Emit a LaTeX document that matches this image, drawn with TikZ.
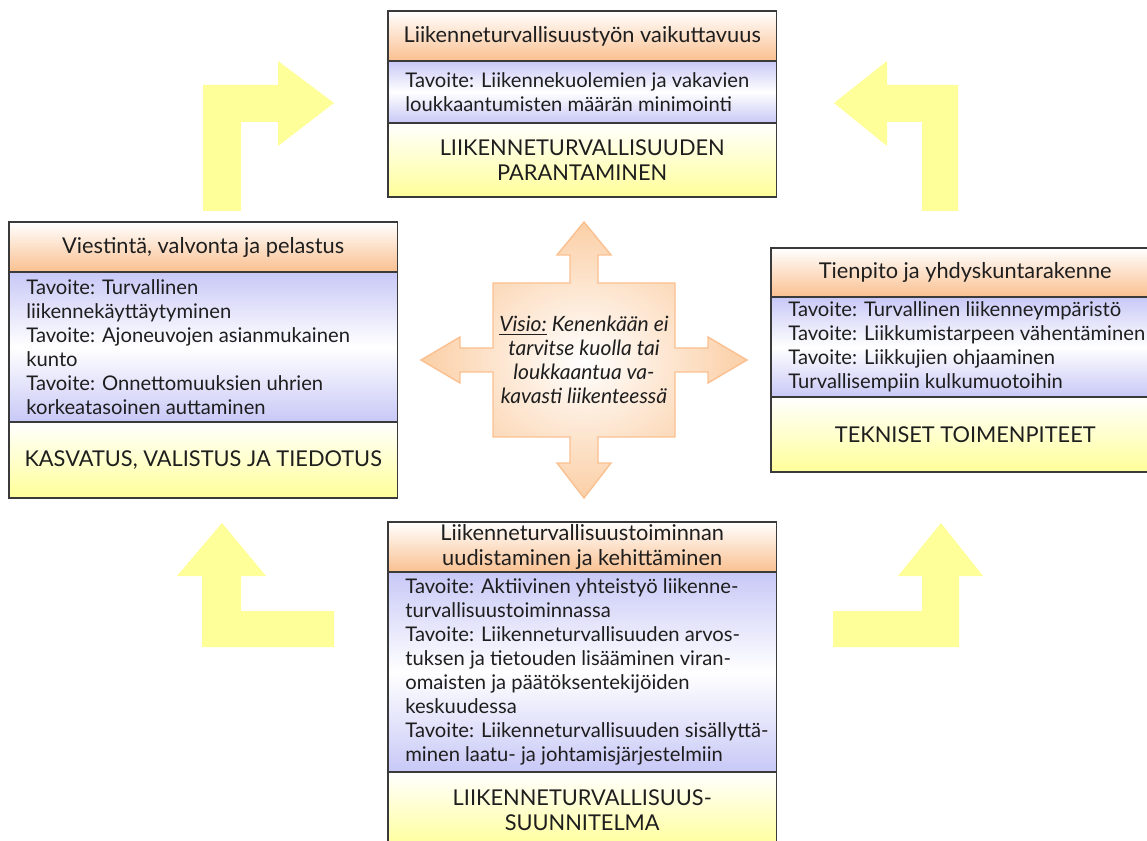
\documentclass[tikz,border=0pt]{standalone}
\usepackage{fontspec}
\setmainfont{Lato}
\usetikzlibrary{positioning}

\definecolor{otsikkovari}{HTML}{FAC090}
\definecolor{tavoitevari}{HTML}{C8C8F7}
\definecolor{keinovari}{HTML}{FFFF99}
\definecolor{visioreuna}{HTML}{FAC090}
\definecolor{visiotausta}{HTML}{FBCFA6}
\definecolor{reuna}{HTML}{3A3A3A}
\definecolor{muste}{HTML}{1E1E1E}

\tikzset{
  osa/.style={draw=reuna, line width=0.7pt, minimum width=7.77cm, inner sep=0pt,
    outer sep=0pt, text=muste, align=center, font=\fontsize{12.4}{14.2}\selectfont},
  otsikko/.style={osa, top color=white, bottom color=otsikkovari},
  tavoite/.style={osa, top color=tavoitevari, bottom color=tavoitevari, middle color=white},
  keino/.style={osa, top color=white, bottom color=keinovari},
  tavoitteet/.style={anchor=west, inner sep=0pt, align=left, text=muste,
    font=\fontsize{11.5}{13.6}\selectfont},
  kaannos/.style={fill=keinovari, draw=none},
}

\begin{document}
\begin{tikzpicture}[x=0.02cm, y=-0.02cm]
\useasboundingbox (0,0) rectangle (1147,841);
\clip (0,0) rectangle (1147,841);

% keltaiset kaantonuolet
\path[kaannos] (203,211) -- (203,85) -- (278,85) -- (278,61) -- (334,103) -- (278,146) -- (278,122) -- (241,122) -- (241,211) -- cycle;
\path[kaannos] (958,211) -- (958,85) -- (887,85) -- (887,61) -- (834,103) -- (887,146) -- (887,122) -- (922,122) -- (922,211) -- cycle;
\path[kaannos] (334,647) -- (202,647) -- (202,576) -- (177,576) -- (222,523) -- (266,576) -- (241,576) -- (241,611) -- (334,611) -- cycle;
\path[kaannos] (833,647) -- (959,647) -- (959,576) -- (983,576) -- (941,523) -- (898,576) -- (922,576) -- (922,611) -- (833,611) -- cycle;

% visio keskella
\path[draw=visioreuna, line width=0.8pt, inner color=white, outer color=visiotausta]
  (584,222) -- (611,255) -- (598,255) -- (598,283) -- (675,283) -- (675,348) -- (708,348) -- (708,337)
  -- (747,360) -- (708,383) -- (708,372) -- (675,372) -- (675,437) -- (598,437) -- (598,463) -- (611,463)
  -- (584,498) -- (557,463) -- (570,463) -- (570,437) -- (493,437) -- (493,372) -- (460,372) -- (460,383)
  -- (421,360) -- (460,337) -- (460,348) -- (493,348) -- (493,283) -- (570,283) -- (570,255) -- (557,255) -- cycle;
\node[align=center, text=muste, font=\fontsize{12}{13.6}\selectfont\itshape] (visio) at (584,360)
  {\underline{Visio:} Kenenkään ei\\tarvitse kuolla tai\\loukkaantua va-\\kavasti liikenteessä};

% ylhaalla
\node[otsikko, minimum height=1cm, anchor=north west] (yla0) at (388,11) {Liikenneturvallisuustyön vaikuttavuus};
\node[tavoite, minimum height=1.24cm, below=0pt of yla0] (yla1) {};
\node[keino, minimum height=1.48cm, below=0pt of yla1] (yla2) {LIIKENNETURVALLISUUDEN\\PARANTAMINEN};
\node[tavoitteet] (yla1t) at ([xshift=0.34cm]yla1.west)
  {Tavoite: Liikennekuolemien ja vakavien\\loukkaantumisten määrän minimointi};

% vasemmalla
\node[otsikko, minimum height=1cm, anchor=north west] (vas0) at (9,222) {Viestintä, valvonta ja pelastus};
\node[tavoite, minimum height=3cm, below=0pt of vas0] (vas1) {};
\node[keino, minimum height=1.52cm, below=0pt of vas1] (vas2) {KASVATUS, VALISTUS JA TIEDOTUS};
\node[tavoitteet] (vas1t) at ([xshift=0.34cm]vas1.west)
  {Tavoite: Turvallinen\\liikennekäyttäytyminen\\Tavoite: Ajoneuvojen asianmukainen\\kunto\\Tavoite: Onnettomuuksien uhrien\\korkeatasoinen auttaminen};

% oikealla
\node[otsikko, minimum height=0.98cm, anchor=north west] (oik0) at (771,248) {Tienpito ja yhdyskuntarakenne};
\node[tavoite, minimum height=2cm, below=0pt of oik0] (oik1) {};
\node[keino, minimum height=1.5cm, below=0pt of oik1] (oik2) {TEKNISET TOIMENPITEET};
\node[tavoitteet] (oik1t) at ([xshift=0.34cm]oik1.west)
  {Tavoite: Turvallinen liikenneympäristö\\Tavoite: Liikkumistarpeen vähentäminen\\Tavoite: Liikkujien ohjaaminen\\Turvallisempiin kulkumuotoihin};

% alhaalla
\node[otsikko, minimum height=1cm, anchor=north west] (ala0) at (388,522) {Liikenneturvallisuustoiminnan\\uudistaminen ja kehittäminen};
\node[tavoite, minimum height=4cm, below=0pt of ala0] (ala1) {};
\node[keino, minimum height=1.52cm, below=0pt of ala1] (ala2) {LIIKENNETURVALLISUUS-\\SUUNNITELMA};
\node[tavoitteet] (ala1t) at ([xshift=0.34cm]ala1.west)
  {Tavoite: Aktiivinen yhteistyö liikenne-\\turvallisuustoiminnassa\\Tavoite: Liikenneturvallisuuden arvos-\\tuksen ja tietouden lisääminen viran-\\omaisten ja päätöksentekijöiden\\keskuudessa\\Tavoite: Liikenneturvallisuuden sisällyttä-\\minen laatu- ja johtamisjärjestelmiin};

\end{tikzpicture}
\end{document}
